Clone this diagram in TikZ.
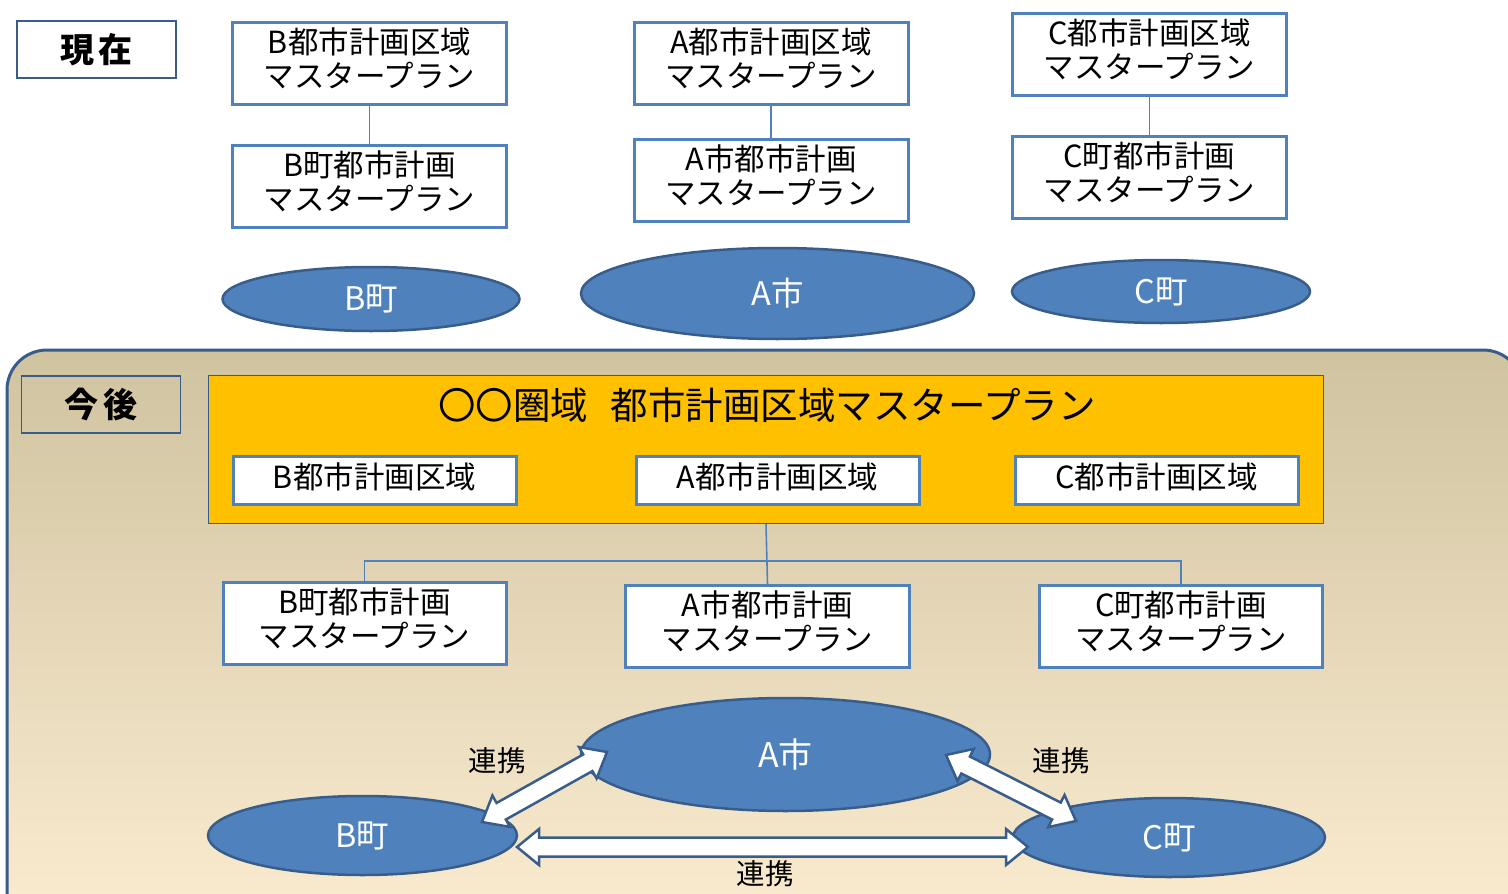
\documentclass[tikz,border=0pt]{standalone}
\usepackage{fontspec}
\setmainfont{Noto Sans CJK JP}
\usetikzlibrary{shapes.geometric,calc}
\definecolor{boxblue}{RGB}{79,129,189}
\definecolor{edgeblue}{RGB}{56,93,138}
\definecolor{goldfill}{RGB}{255,192,0}
\definecolor{bgtop}{RGB}{208,195,160}
\definecolor{bgbot}{RGB}{252,237,210}
\newcommand{\blockarrow}[3]{%
  \coordinate (#3p) at ($(#1)!22pt!(#2)$);
  \coordinate (#3q) at ($(#2)!22pt!(#1)$);
  \draw[barrow] (#1) -- ($(#3p)!18pt!90:(#2)$) -- ($(#3p)!9.5pt!90:(#2)$)
    -- ($(#3q)!9.5pt!-90:(#1)$) -- ($(#3q)!18pt!-90:(#1)$) -- (#2)
    -- ($(#3q)!18pt!90:(#1)$) -- ($(#3q)!9.5pt!90:(#1)$)
    -- ($(#3p)!9.5pt!-90:(#2)$) -- ($(#3p)!18pt!-90:(#2)$) -- cycle;}
\begin{document}
\begin{tikzpicture}[x=1pt,y=-1pt,
  plan/.style={draw=boxblue, line width=3pt, fill=white, minimum width=274pt,
    minimum height=82pt, align=center, inner sep=0pt, text depth=11pt,
    font=\fontsize{30.5}{34}\selectfont},
  region/.style={draw=boxblue, line width=3pt, fill=white, minimum width=283pt,
    minimum height=48pt, inner sep=0pt, text depth=9pt, font=\fontsize{30.5}{34}\selectfont},
  town/.style={ellipse, draw=edgeblue, line width=2.5pt, fill=boxblue,
    text=white, inner sep=0pt, font=\fontsize{32.5}{36}\selectfont},
  tag/.style={draw=edgeblue, line width=1.8pt, minimum width=159pt,
    minimum height=57pt, inner sep=0pt, font=\fontsize{34}{38}\selectfont\bfseries},
  link/.style={draw=boxblue, line width=1.6pt},
  barrow/.style={draw=edgeblue, fill=white, line width=2.5pt, line join=miter},
  lbl/.style={font=\fontsize{28.5}{32}\selectfont, inner sep=0pt}]
\useasboundingbox (0,0) rectangle (1508,894);
\fill[white] (0,0) rectangle (1508,894);
% ---------- current ----------
\node[tag] (now) at (96.5,49.5) {現\hspace{5pt}在};
\node[plan] (Bp) at (369.5,63.5) {B都市計画区域\\マスタープラン};
\node[plan] (Bt) at (369.5,186) {B町都市計画\\マスタープラン};
\node[plan] (Ap) at (771,63.5) {A都市計画区域\\マスタープラン};
\node[plan] (At) at (771,180.5) {A市都市計画\\マスタープラン};
\node[plan] (Cp) at (1149.5,54) {C都市計画区域\\マスタープラン};
\node[plan] (Ct) at (1149.5,177) {C町都市計画\\マスタープラン};
\draw[link] (Bp.south) -- (Bt.north);
\draw[link] (Ap.south) -- (At.north);
\draw[link] (Cp.south) -- (Ct.north);
\node[town, minimum width=297pt, minimum height=64pt] (Be) at (371,299) {B町};
\node[town, minimum width=393pt, minimum height=91pt] (Ae) at (777.5,293.5) {A市};
\node[town, minimum width=298pt, minimum height=63pt] (Ce) at (1161,291.5) {C町};
% ---------- future ----------
\path[top color=bgtop, bottom color=bgbot, rounded corners=40pt]
  (7,350) rectangle (1523,940);
\draw[draw=edgeblue, line width=3pt, rounded corners=40pt]
  (7,350) rectangle (1523,940);
\node[tag] (fut) at (101,404.5) {今\hspace{5pt}後};
\node[draw=edgeblue, line width=1.5pt, fill=goldfill, minimum width=1115pt,
  minimum height=148pt, inner sep=0pt] (area) at (766,449.5) {};
\node[font=\fontsize{37.5}{40}\selectfont, inner sep=0pt] (title) at (767,405)
  {〇〇圏域\hspace{0.6em}都市計画区域マスタープラン};
\node[region] (Br) at (374.5,480.5) {B都市計画区域};
\node[region] (Ar) at (777.5,480.5) {A都市計画区域};
\node[region] (Cr) at (1156.5,480.5) {C都市計画区域};
\node[plan, minimum width=283pt] (Bl) at (364.5,623) {B町都市計画\\マスタープラン};
\node[plan, minimum width=284pt] (Al) at (767.5,626.5) {A市都市計画\\マスタープラン};
\node[plan, minimum width=283pt] (Cl) at (1181,626.5) {C町都市計画\\マスタープラン};
\coordinate (hy) at (0,561);
\draw[link] (area.south) -- (Al.north);
\draw[link] (Bl.north) -- (Bl.north |- hy) -- (Cl.north |- hy) -- (Cl.north);
\node[town, minimum width=409pt, minimum height=113pt, font=\fontsize{34}{38}\selectfont] (Ab) at (785.5,754.5) {A市};
\node[town, minimum width=309pt, minimum height=79pt] (Bb) at (362.5,835.5) {B町};
\node[town, minimum width=312pt, minimum height=79pt] (Cb) at (1169,837.5) {C町};
\coordinate (ba1) at (482,822);
\coordinate (ba2) at (607,752);
\coordinate (ac1) at (946,755);
\coordinate (ac2) at (1076,821);
\coordinate (bc1) at (517,847);
\coordinate (bc2) at (1028,847);
\blockarrow{ba1}{ba2}{x}
\blockarrow{ac1}{ac2}{y}
\blockarrow{bc1}{bc2}{z}
\node[lbl] (l1) at (497,761) {連携};
\node[lbl] (l2) at (1061,761) {連携};
\node[lbl] (l3) at (765,874) {連携};
\end{tikzpicture}
\end{document}
